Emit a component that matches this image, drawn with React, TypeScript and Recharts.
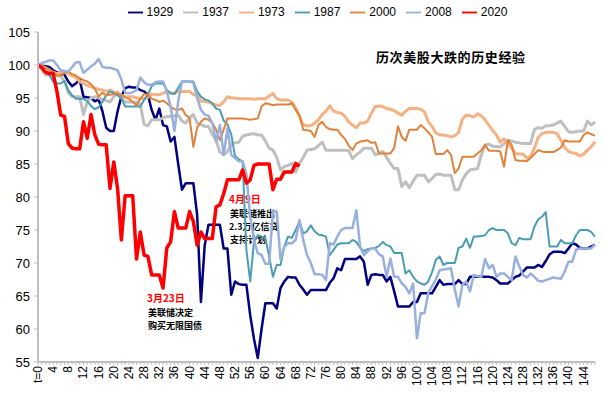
import React from 'react';
import { LineChart, Line, XAxis, YAxis, Legend, Customized } from 'recharts';

const categories: number[] = Array.from({ length: 148 }, (_, i) => i);
const tickLabels: string[] = categories.map((i) => (i === 0 ? 't=0' : String(i)));
const yTicks = [55, 60, 65, 70, 75, 80, 85, 90, 95, 100, 105];

const s1929 = [100,99.9,99.8,99.7,99.2,98.9,98.7,98.5,97.5,96.8,
97.2,97.8,95.2,95.1,95,94.5,94.8,93,90.5,90,
90,93,95.2,96.5,96.7,96.6,96.6,96.2,96,95.5,
93.2,91.7,93.4,90.9,90.7,88.4,89.1,85,81.1,82.1,
82.1,82.1,77.3,64.1,72.7,75.8,75.8,75.8,75.8,72.2,
72.2,65.2,67.2,66.8,66.7,66.7,62.1,58.5,55.6,60,
63.9,63.9,63.9,63.1,66.2,67.2,67.9,67.8,67.8,66.7,
66,65.2,65.9,65.9,65.9,65.9,65.9,67,67.7,69.2,
68.9,70.6,70.6,70.6,70.6,71,70.2,66.7,68.2,68.3,
68.2,68.2,67.2,67.9,65.7,63.4,63.4,63.4,63.4,64.1,
64.1,65.4,65.4,65.4,65.4,66.4,67.4,66.7,66.8,66.8,
66.8,67.4,66.8,66.8,67.9,67.9,67.9,67.9,67.9,67.9,
67.8,67.4,66.9,66.9,66.9,67.4,67.9,68.1,68.7,69.3,
69.3,69.3,69.7,69.4,70.3,71.3,71.7,71.7,71.7,71.5,
72.2,73,72.8,72.3,72.2,72.2,72.5,72.8];

const s1937 = [100,99.3,98.5,98.5,98.5,98.4,98.3,97.5,95.8,95.2,
95.2,95.2,92.5,94.4,95,95.2,95,94.8,94.6,94.4,
95.2,95.9,95,94.4,94.4,94.4,94.4,94,91,90.8,
91.7,91.7,91.7,92,92.2,92.2,92.3,92.4,91.5,91.2,
92,92.5,91.2,91,90.7,90.7,89.5,88.6,86.8,86.4,
86.9,88,88.2,88.3,89.2,89.4,89.5,89.6,89.4,89.4,
88.5,87.4,87.1,86,84.1,84.6,84.8,85.1,83.8,85.1,
86,87.1,87.2,87.3,87.8,88.3,87.1,87.1,87.1,87.1,
87.1,87.1,87,85.8,86.4,86.8,87.4,87.4,87.4,86.4,
86.6,86.9,86,85.1,84.3,84.3,81.6,82.3,81.4,82.4,
83.3,83.3,83.3,82.3,82.8,83.4,83.5,83.3,83.3,83.3,
81.1,81.1,82.6,83.5,84.1,84.2,84.3,86.4,87.9,88,
87.7,87.6,87.6,88.1,88.6,88.5,88.3,88.2,88.1,88.1,
88.1,90.2,90.5,90.4,90.8,90.8,90.9,91.2,91.5,90.7,
89.9,89.8,89.9,90,90,91.5,90.9,91.4];

const s1973 = [100,99.8,99.6,99.2,98.9,98.7,98.9,99,98.7,98.4,
98.1,97.5,97.2,96.9,96.7,96.5,96.3,96.2,96,96.2,
95.9,95.7,95.4,95.2,95.2,95.2,95,94.9,94.9,95.1,
95.6,95.5,95.5,95.7,96,95.8,95.7,96,96,96,
96,95.5,95.4,94.5,94.5,94.4,94.1,93.9,93.9,94.4,
95.2,95,95,94.9,94.9,94.9,94.9,94.8,94.9,94.9,
94.9,95.3,95.7,94.9,94.7,94.7,94.7,94.4,93.5,92.2,
90.9,90.8,90.8,91.2,91.7,92.5,93,93.8,93,92.8,
92.7,92.2,91.4,90.9,90.5,91.2,91.2,91.5,92.7,93.7,
93.8,93.7,93.4,93.3,93.1,92.7,92.4,93,93.4,93.4,
93.4,93.3,92.9,91.4,90.7,89.7,89.4,89.4,89.3,89.1,
89.3,89.8,91.8,92.4,92.3,92.1,92.6,92.3,91.7,90.9,
90.1,89.4,88.3,88.8,88,87.4,86.6,86.5,86.5,85.9,
86.2,87.4,89,89.6,89.8,89.8,89.8,89.6,88.6,87.5,
86.9,86.7,86.6,86.2,86.5,87.1,87.6,88.4];

const s1987 = [100,99.6,99,98.5,97.5,97.2,97.2,97.6,96.2,95.4,
94.9,94.9,94.9,94.5,93.8,93.3,93.6,94.4,95.4,96,
95.8,95.4,95,93.7,93.7,93.7,93.7,93.7,94.7,95.5,
96.8,97.2,97.2,97.2,96.2,95.7,95.6,96.5,97.5,97.5,
97.5,97.5,96,95.2,94.8,94.6,94.2,93.4,93.2,91.6,
91,89.5,86.2,85.7,85.4,72,67.2,73.2,74.2,74,
73.8,71,67.9,69.7,69.7,72.5,74,73.8,75,76.3,
74.5,74.8,75.7,74.8,74.3,74.2,74,71.2,72,72.8,
73,73,73,73.5,73.2,72.3,71.8,72.1,72.2,72.3,
72.6,73.2,72.7,72.5,71.5,71.5,71.5,68.4,68.9,67.9,
67.2,66.9,66.7,67.2,68.6,70.5,71,69.7,70,70,
70,72.3,72.5,73.7,72.3,74,74,74.1,74.2,75,
75.3,75,75,75,74.5,73,72.7,73.8,73.6,73.6,
73.6,75.5,76.6,77,77.7,72.5,72.5,72.5,73.5,73,
73,73,74.2,75,75,75,74.7,74];

const s2000 = [100,99.8,99.6,99.4,98.9,98.4,98.4,98.8,99,98.6,
98.4,98,97.7,97.5,97.1,96.4,95.2,95.8,95.4,95.5,
95.6,95.7,95.4,95.1,94.9,94.4,93.9,94.9,95.6,95.5,
94.9,94.7,94.4,94.6,94.2,93.7,93.3,93.2,93.4,92.4,
92,87.6,90.5,91.4,91.9,91.7,91.2,90.2,88.6,90.2,
91.9,91.9,91.9,91.9,91.9,91.8,91.7,91.8,91.9,93.7,
94.2,94.1,93.9,94,94,94,94,94.2,93.2,92.4,
90.2,90.1,90,89.1,90.9,91.4,90.6,90.3,90.2,90.2,
89.4,88.8,87.8,87.1,88.1,88.4,88.5,88.6,88.2,88.3,
86.6,86.6,86.6,86.6,87.4,90.7,89.1,88.5,90.2,90.2,
90.2,90.9,90.4,89.8,89.1,86.5,86.5,86.5,87.1,86.4,
83.6,84.3,86.1,86.1,86.1,86.1,86.6,87.1,87.9,87,
87,87,86.9,84.6,88.6,87.9,85.6,85.5,85.5,85.4,
85.9,86.5,87.1,86.9,86.8,86.8,86.8,87.1,87.5,88.6,
88.4,88.4,88.4,88.4,89.4,89.8,89.5,89.3];

const s2008 = [100,100.3,100.5,100.7,100.7,100,99.2,99.1,99,99.7,
100.4,100.4,98.8,99.3,99.8,100.2,100.9,99.7,99.6,99.6,
99.4,99.2,97.8,95.8,95.7,95.9,96.2,98.1,97.4,97,
97,97.4,97.5,97.5,96,93.7,90,94.5,97.5,97.5,
97.5,97.3,95,93.2,92.5,92.3,91.2,88.4,90.9,86.4,
90.4,86.4,85.9,85.4,85.4,83.5,77,73.5,71.5,71.2,
69.9,69.9,77.8,77.8,70.6,72.5,73,73,73.5,76.5,
73.5,71.2,70,68.3,68.3,68.2,67.4,73,72.8,74,
75,75.3,75.3,75.3,78,72.5,71.2,71.8,72.2,72.2,
71.3,71,67.9,70.7,67.9,67.9,66.9,66.4,65.4,66.9,
58.6,62.4,62.4,65.5,66.5,67.5,68.9,69,69.1,69.2,
66,63.4,66.7,67.2,65.7,68.2,68,67.9,70.6,69.2,
69.7,67.9,68.4,68.4,67.9,67.4,71,69.5,68.2,67.8,
68.4,67.9,67.3,67.2,67.4,67.6,67.8,67.7,67.6,68.7,
70.2,70.2,72,72.2,72.2,72.2,72.2,72.8];

const s2020 = [100,99.6,98.9,98.7,98.7,96,92.4,92.2,88.1,87.4,
87.3,87.3,91.4,88.9,92.5,89.4,88,87.9,87.9,81.3,
85.3,81.3,73.5,80.2,80.2,80.2,70.6,74.7,71.2,71,
68.2,68.2,68.2,66.2,72.3,73.2,77.8,75.3,75.3,75.3,
77.8,76.3,72.7,74.7,73.7,73.7,73.7,78.5,78.8,80.5,
82.6,82.6,82.6,82.6,84.1,82.1,82.6,84.8,85,85,
85,85,81.1,82.7,82.7,83.8,83.8,83.8,85.1,84.7];

const seriesNames = ['1929', '1937', '1973', '1987', '2000', '2008', '2020'];
const seriesValues = [s1929, s1937, s1973, s1987, s2000, s2008, s2020];
const seriesColors = ['#000080', '#BFBFBF', '#F4B183', '#4A9DB3', '#E0823A', '#98B0DE', '#FF0000'];
const seriesWidths = [2.5, 3, 3, 2, 2, 2.5, 3.5];

const titleText = '历次美股大跌的历史经验';
const note1 = ['3月23日', '美联储决定', '购买无限国债'];
const note2 = ['4月9日', '美联储推出', '2.3万亿信贷', '支持计划'];

const data = categories.map((c, i) => {
  const row: Record<string, any> = { t: tickLabels[i] };
  seriesNames.forEach((n, k) => {
    const v = seriesValues[k][i];
    row['y' + n] = v === undefined ? null : v;
  });
  return row;
});

const FONT = 'Liberation Sans, Arial, sans-serif';
const CJK = '"Noto Sans CJK SC", sans-serif';

const XTick = (props: any) => {
  const { x, y, index, payload } = props;
  if (index % 4 !== 0) return <g />;
  return (
    <text
      x={x}
      y={y}
      transform={`rotate(-90 ${x} ${y})`}
      textAnchor="end"
      dominantBaseline="central"
      fontSize={12}
      fontFamily={FONT}
      fill="#000"
    >
      {payload.value}
    </text>
  );
};

const Notes = () => (
  <g>
    <text x={376} y={62} fontSize={13} fontWeight="bold" fontFamily={CJK} fill="#000" letterSpacing={0.6}>{titleText}</text>
    <text x={147} y={302} fontSize={10} fontWeight="bold" fontFamily={CJK} fill="#FF0000">{note1[0]}</text>
    <text x={148} y={316} fontSize={9} fontWeight="bold" fontFamily={CJK} fill="#000">{note1[1]}</text>
    <text x={148} y={329} fontSize={9} fontWeight="bold" fontFamily={CJK} fill="#000">{note1[2]}</text>
    <text x={229} y={203} fontSize={10} fontWeight="bold" fontFamily={CJK} fill="#FF0000">{note2[0]}</text>
    <text x={230} y={217} fontSize={9} fontWeight="bold" fontFamily={CJK} fill="#000">{note2[1]}</text>
    <text x={229} y={230} fontSize={9} fontWeight="bold" fontFamily={CJK} fill="#000">{note2[2]}</text>
    <text x={230} y={243} fontSize={9} fontWeight="bold" fontFamily={CJK} fill="#000">{note2[3]}</text>
  </g>
);

export default function App() {
  return (
    <div style={{ position: 'absolute', left: 0, top: 0, width: 605, height: 395, background: '#fff' }}>
      <LineChart width={605} height={395} data={data} margin={{ top: 12, right: 10, left: 0, bottom: 0 }}>
        <Legend
          verticalAlign="top"
          align="center"
          iconType="plainline"
          iconSize={15}
          height={20}
          wrapperStyle={{ top: 4, left: 25, fontFamily: FONT, fontSize: 12, lineHeight: '16px' }}
          formatter={(v: any) => <span style={{ color: '#000' }}>{v}</span>}
        />
        <XAxis
          dataKey="t"
          interval={0}
          height={33}
          tickSize={3}
          tickMargin={1}
          tick={<XTick />}
          axisLine={{ stroke: '#BFBFBF', strokeWidth: 2 }}
          tickLine={{ stroke: '#BFBFBF' }}
        />
        <YAxis
          domain={[55, 105]}
          ticks={yTicks}
          width={38}
          tickSize={4}
          tickMargin={4}
          allowDataOverflow
          axisLine={{ stroke: '#BFBFBF', strokeWidth: 2 }}
          tickLine={{ stroke: '#BFBFBF' }}
          tick={{ fontSize: 13, fill: '#000', fontFamily: FONT }}
        />
        {seriesNames.map((n, k) => (
          <Line
            key={n}
            type="linear"
            dataKey={'y' + n}
            name={n}
            stroke={seriesColors[k]}
            strokeWidth={seriesWidths[k]}
            dot={false}
            activeDot={false}
            isAnimationActive={false}
            strokeLinejoin="round"
          />
        ))}
        <Customized component={Notes} />
      </LineChart>
    </div>
  );
}
